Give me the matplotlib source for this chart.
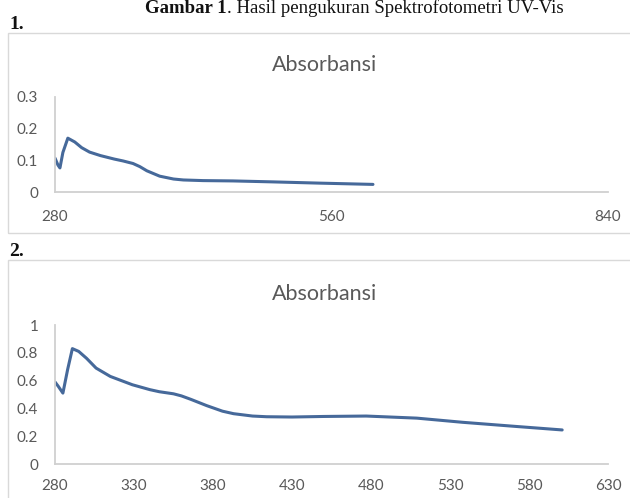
import matplotlib
matplotlib.use("Agg")
import matplotlib.pyplot as plt
from matplotlib.patches import Rectangle

W, H = 630, 498

# Chart 1 data (wavelength nm, absorbance)
wl1 = [280, 283, 285, 288, 293, 300, 307, 315, 326, 340, 349, 359, 366, 373, 386, 400, 410, 430, 460, 500, 548, 575, 602]
abs1 = [0.107, 0.085, 0.076, 0.125, 0.170, 0.158, 0.140, 0.126, 0.115, 0.104, 0.098, 0.090, 0.080, 0.067, 0.050, 0.041, 0.038, 0.036, 0.035, 0.032, 0.028, 0.026, 0.024]
xticks1 = [280, 560, 840]
yticks1 = [0, 0.1, 0.2, 0.3]
ylabels1 = ["0", "0.1", "0.2", "0.3"]

# Chart 2 data
wl2 = [280, 282, 285, 288, 291, 295, 300, 306, 315, 329, 340, 346, 355, 360, 366, 376, 386, 393, 405, 414, 430, 450, 477, 509, 538, 572, 601]
abs2 = [0.59, 0.56, 0.51, 0.68, 0.83, 0.81, 0.76, 0.69, 0.63, 0.57, 0.535, 0.52, 0.505, 0.49, 0.465, 0.42, 0.38, 0.362, 0.345, 0.34, 0.338, 0.342, 0.345, 0.33, 0.30, 0.27, 0.245]
xticks2 = [280, 330, 380, 430, 480, 530, 580, 630]
yticks2 = [0, 0.2, 0.4, 0.6, 0.8, 1.0]
ylabels2 = ["0", "0.2", "0.4", "0.6", "0.8", "1"]

caption_bold = "Gambar 1"
caption_rest = ". Hasil pengukuran Spektrofotometri UV-Vis"
title = "Absorbansi"

LINE = "#46699a"
GRAY_TXT = "#595959"
AX_LINE = "#d0d0d0"
SANS = ["Lato", "DejaVu Sans"]
SERIF = ["Liberation Serif", "DejaVu Serif"]

fig = plt.figure(figsize=(W / 100, H / 100), dpi=100)
fig.patch.set_facecolor("white")


def fx(px):
    return px / W


def fy(py):
    return 1 - py / H


def add_ax(left, top, right, bottom):
    return fig.add_axes([fx(left), fy(bottom), fx(right) - fx(left), (bottom - top) / H])


# caption
t = fig.text(fx(145), fy(13), caption_bold, fontsize=13.5, fontweight="bold",
             family=SERIF, va="baseline", ha="left", color="#111111")
fig.canvas.draw()
bb = t.get_window_extent()
fig.text(bb.x1 / W, fy(13), caption_rest, fontsize=13.5, family=SERIF,
         va="baseline", ha="left", color="#111111")

fig.text(fx(9), fy(29), "1.", fontsize=14, fontweight="bold", family=SERIF,
         va="baseline", ha="left", color="#111111")
fig.text(fx(9), fy(256), "2.", fontsize=14, fontweight="bold", family=SERIF,
         va="baseline", ha="left", color="#111111")

# chart frames
fig.patches.append(Rectangle((fx(8), fy(233)), fx(640) - fx(8), (233 - 33) / H,
                             transform=fig.transFigure, fill=False,
                             edgecolor="#d9d9d9", linewidth=1.0))
fig.patches.append(Rectangle((fx(8), fy(510)), fx(640) - fx(8), (510 - 260) / H,
                             transform=fig.transFigure, fill=False,
                             edgecolor="#d9d9d9", linewidth=1.0))

fig.text(fx(325), fy(71), title, fontsize=15.5, family=SANS, color=GRAY_TXT,
         ha="center", va="baseline")
fig.text(fx(325), fy(300), title, fontsize=15.5, family=SANS, color=GRAY_TXT,
         ha="center", va="baseline")


def style(ax, xt, yt, yl, xlim, ylim, xpad, ypad):
    ax.set_xlim(*xlim)
    ax.set_ylim(*ylim)
    ax.set_xticks(xt)
    ax.set_xticklabels([str(v) for v in xt])
    ax.set_yticks(yt)
    ax.set_yticklabels(yl)
    for s in ["top", "right"]:
        ax.spines[s].set_visible(False)
    for s in ["left", "bottom"]:
        ax.spines[s].set_color(AX_LINE)
        ax.spines[s].set_linewidth(1.3)
    ax.tick_params(axis="both", length=0, labelsize=11, labelcolor=GRAY_TXT)
    ax.tick_params(axis="x", pad=xpad)
    ax.tick_params(axis="y", pad=ypad)
    for lab in ax.get_xticklabels() + ax.get_yticklabels():
        lab.set_family(SANS)
    ax.set_facecolor("none")


ax1 = add_ax(55, 97, 608, 192)
ax1.plot(wl1, abs1, color=LINE, linewidth=2.2, solid_joinstyle="round",
         solid_capstyle="round")
style(ax1, xticks1, yticks1, ylabels1, (280, 840), (0, 0.3), 13, 12)

ax2 = add_ax(55, 325, 608, 464)
ax2.plot(wl2, abs2, color=LINE, linewidth=2.2, solid_joinstyle="round",
         solid_capstyle="round")
style(ax2, xticks2, yticks2, ylabels2, (280, 630), (0, 1.0), 11, 12)

fig.savefig("out.png", dpi=100, facecolor="white")
